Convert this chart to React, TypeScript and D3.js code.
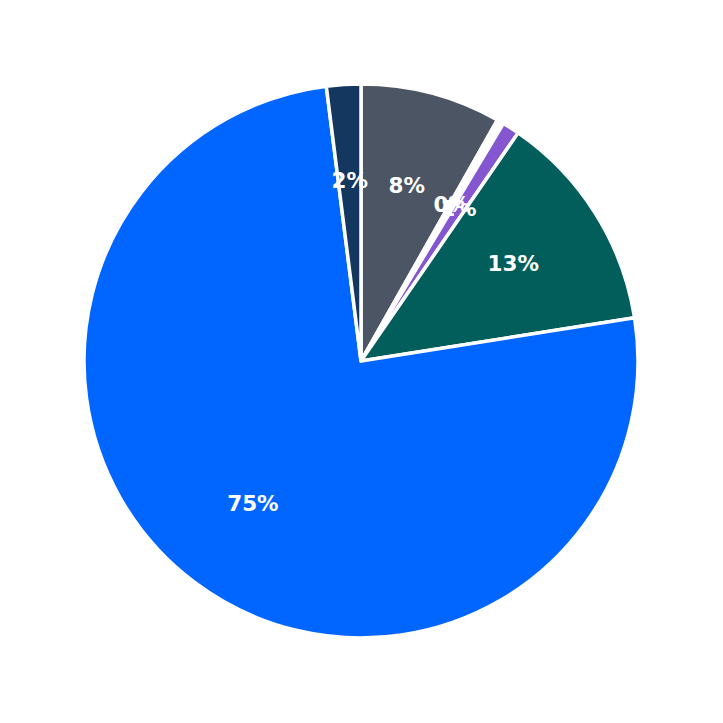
import React from "react";
import * as d3 from "d3";

const categories = ["A", "B", "C", "D", "E", "F"];
const values = [8.2, 0.4, 1.0, 12.9, 75.5, 2.0];
const labels = ["8%", "0%", "1%", "13%", "75%", "2%"];
const colors = ["#4b5563", "#ffffff", "#8456cf", "#025e5b", "#0066ff", "#14375f"];

export default function App() {
  const W = 723, H = 723;
  const cx = 361, cy = 361, R = 277, labelR = 180;
  const data = categories.map((c, i) => ({ c, v: values[i], label: labels[i], color: colors[i] }));
  const pie = d3.pie<any>().value((d) => d.v).sort(null).startAngle(0).endAngle(2 * Math.PI);
  const arcs = pie(data);
  const arc = d3.arc<any>().innerRadius(0).outerRadius(R);
  const labelArc = d3.arc<any>().innerRadius(labelR).outerRadius(labelR);
  return (
    <svg width={W} height={H} style={{ position: "absolute", left: 0, top: 0 }}>
      <rect width={W} height={H} fill="#ffffff" />
      <g transform={`translate(${cx},${cy})`}>
        {arcs.map((a, i) => (
          <path key={i} d={arc(a) as string} fill={a.data.color} stroke="#ffffff" strokeWidth={3.5} strokeLinejoin="round" />
        ))}
        {arcs.map((a, i) => {
          const [x, y] = labelArc.centroid(a);
          return (
            <text key={"t" + i} x={x} y={y} dy="0.3em" textAnchor="middle" fill="#ffffff"
              fontFamily="DejaVu Sans" fontWeight="bold" fontSize={21.5}>
              {a.data.label}
            </text>
          );
        })}
      </g>
    </svg>
  );
}
